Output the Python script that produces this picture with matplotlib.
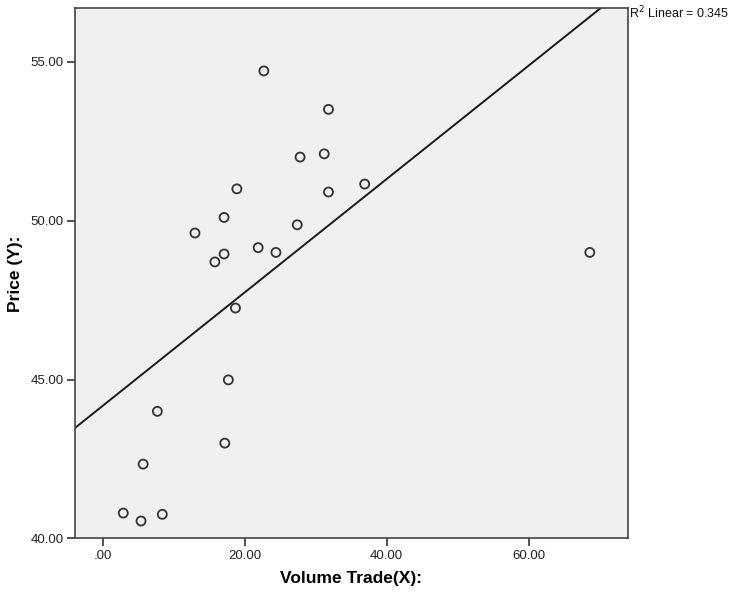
import numpy as np
import matplotlib
matplotlib.use("Agg")
import matplotlib.pyplot as plt

plt.rcParams['font.family'] = ['Liberation Sans', 'DejaVu Sans']

volume = [22.7, 31.8, 27.8, 31.2, 18.9, 31.8, 36.9, 17.1, 13.0, 27.4, 17.1, 15.8,
          21.9, 24.4, 18.7, 17.7, 7.7, 17.2, 5.7, 2.9, 5.4, 8.4, 68.6]
price = [54.71, 53.50, 52.00, 52.10, 51.00, 50.90, 51.15, 50.10, 49.61, 49.87, 48.95, 48.70,
         49.15, 49.00, 47.25, 44.99, 44.00, 43.00, 42.34, 40.80, 40.55, 40.76, 49.00]
x_ticks = [0, 20, 40, 60]
x_tick_labels = ['.00', '20.00', '40.00', '60.00']
y_ticks = [40, 45, 50, 55]
y_tick_labels = ['40.00', '45.00', '50.00', '55.00']
x_label = 'Volume Trade(X):'
y_label = 'Price (Y):'
r2_label = 'R$^2$ Linear = 0.345'

fig = plt.figure(figsize=(7.3, 6.01), dpi=100)
ax = fig.add_axes([0.1027, 0.104, 0.7572, 0.8822])
ax.set_facecolor('#F0F0F0')

xlim = (-3.9, 73.94)
ylim = (40.0, 56.68)

x = np.array(volume)
y = np.array(price)
slope, intercept = np.polyfit(x, y, 1)
xs = np.array(xlim)
ax.plot(xs, intercept + slope * xs, color='#1a1a1a', lw=1.4, zorder=2)

ax.scatter(x, y, s=42, facecolors='none', edgecolors='#333333', linewidths=1.3, zorder=3)

ax.set_xlim(*xlim)
ax.set_ylim(*ylim)
ax.set_xticks(x_ticks)
ax.set_xticklabels(x_tick_labels)
ax.set_yticks(y_ticks)
ax.set_yticklabels(y_tick_labels)
ax.tick_params(direction='out', length=6, width=1.2, color='#333333',
               labelsize=9.5, labelcolor='#222222', pad=2)
for s in ax.spines.values():
    s.set_color('#444444')
    s.set_linewidth(1.2)

ax.set_xlabel(x_label, fontsize=12.5, fontweight='bold')
ax.set_ylabel(y_label, fontsize=12.5, fontweight='bold')
ax.xaxis.set_label_coords(0.5, -0.0613)
ax.yaxis.set_label_coords(-0.0941, 0.5)

fig.text(0.861, 0.979, r2_label, fontsize=9, ha='left', va='center', color='#111111')

fig.savefig('out.png', dpi=100)
